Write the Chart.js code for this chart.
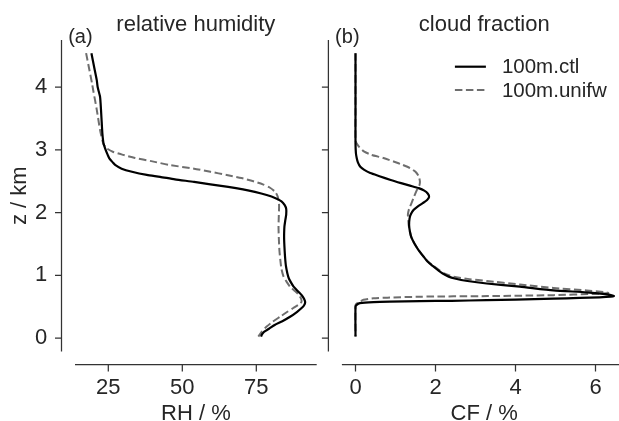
<!DOCTYPE html>
<html>
<head>
<meta charset="utf-8">
<script src="https://cdn.jsdelivr.net/npm/chart.js@4"></script>
<style>
  body { margin: 0; background: #fff; overflow: hidden; }
  #wrap { position: relative; width: 619px; height: 421px; overflow: hidden; }
  canvas { position: absolute; top: 0; }
</style>
</head>
<body>
<div id="wrap">
  <canvas id="rhChart" width="330" height="421" style="left:0"></canvas>
  <canvas id="cfChart" width="310" height="421" style="left:320px"></canvas>
</div>
<script>
// tick labels
var zTicks = [0, 1, 2, 3, 4];
var rhTicks = [25, 50, 75];
var cfTicks = [0, 2, 4, 6];
var seriesLabels = ['100m.ctl', '100m.unifw'];

// relative humidity, 100m.ctl
var rhCtlZ = [4.54, 4.30, 4.11, 4.00, 3.85, 3.74, 3.50, 3.26, 3.10, 3.00, 2.92, 2.86, 2.80, 2.76, 2.70, 2.65, 2.60, 2.57, 2.53, 2.49, 2.45, 2.41, 2.37, 2.33, 2.28, 2.23, 2.18, 2.12, 2.06, 1.97, 1.88, 1.78, 1.67, 1.57, 1.46, 1.30, 1.15, 1.03, 0.95, 0.88, 0.82, 0.74, 0.68, 0.62, 0.57, 0.52, 0.48, 0.42, 0.34, 0.27, 0.21, 0.15, 0.10, 0.06, 0.025];
var rhCtl = [19.3, 20.3, 21.1, 21.4, 22.2, 22.4, 22.7, 23.0, 23.4, 24.1, 24.8, 25.4, 26.5, 27.3, 29.5, 33.0, 38.0, 42.5, 47.5, 54.0, 59.5, 65.5, 70.5, 74.5, 78.5, 81.5, 83.5, 84.6, 85.1, 85.1, 84.8, 84.5, 84.4, 84.4, 84.5, 84.7, 85.0, 85.5, 86.0, 86.8, 87.6, 89.2, 90.4, 91.2, 91.5, 91.1, 90.3, 88.8, 86.4, 83.8, 81.2, 79.3, 77.6, 76.9, 76.6];

// relative humidity, 100m.unifw
var rhUnifwZ = [4.54, 4.30, 4.06, 3.95, 3.64, 3.32, 3.10, 3.03, 2.97, 2.92, 2.87, 2.82, 2.76, 2.70, 2.65, 2.60, 2.55, 2.50, 2.45, 2.40, 2.33, 2.26, 2.18, 2.10, 1.95, 1.78, 1.60, 1.40, 1.25, 1.10, 0.98, 0.90, 0.82, 0.76, 0.70, 0.64, 0.58, 0.53, 0.48, 0.42, 0.34, 0.26, 0.185, 0.10, 0.025];
var rhUnifw = [17.5, 18.5, 19.5, 19.9, 21.1, 22.2, 23.3, 24.3, 26.5, 30.0, 34.0, 39.5, 45.5, 54.0, 59.5, 65.0, 70.0, 74.0, 77.2, 79.5, 81.4, 82.2, 82.6, 82.7, 82.6, 82.5, 82.6, 82.8, 83.1, 83.5, 84.2, 85.2, 86.4, 87.8, 89.2, 90.0, 90.3, 89.2, 87.5, 85.5, 83.0, 80.5, 78.5, 76.8, 75.7];

// cloud fraction, 100m.ctl
var cfCtlZ = [4.54, 3.60, 3.10, 2.95, 2.87, 2.80, 2.73, 2.68, 2.63, 2.58, 2.52, 2.47, 2.43, 2.39, 2.35, 2.30, 2.25, 2.20, 2.15, 2.10, 2.04, 1.97, 1.90, 1.80, 1.70, 1.60, 1.50, 1.40, 1.30, 1.22, 1.15, 1.08, 1.03, 0.98, 0.95, 0.91, 0.87, 0.82, 0.76, 0.73, 0.70, 0.68, 0.67, 0.66, 0.65, 0.64, 0.63, 0.615, 0.605, 0.595, 0.59, 0.583, 0.575, 0.557, 0.53, 0.50, 0.025];
var cfCtl = [0, 0, 0, 0.01, 0.03, 0.06, 0.12, 0.22, 0.37, 0.60, 0.88, 1.14, 1.36, 1.58, 1.72, 1.81, 1.84, 1.79, 1.68, 1.56, 1.45, 1.38, 1.35, 1.34, 1.36, 1.40, 1.48, 1.58, 1.70, 1.80, 1.93, 2.07, 2.18, 2.33, 2.48, 2.80, 3.28, 4.11, 4.95, 5.78, 6.25, 6.43, 6.46, 6.38, 6.10, 5.60, 4.95, 4.00, 3.28, 2.40, 1.61, 0.86, 0.45, 0.11, 0.03, 0, 0];

// cloud fraction, 100m.unifw
var cfUnifwZ = [4.54, 3.60, 3.15, 3.10, 3.04, 2.97, 2.92, 2.87, 2.81, 2.76, 2.71, 2.65, 2.58, 2.50, 2.44, 2.38, 2.31, 2.25, 2.15, 2.06, 1.97, 1.88, 1.80, 1.70, 1.60, 1.50, 1.40, 1.30, 1.22, 1.15, 1.08, 1.03, 0.98, 0.94, 0.91, 0.855, 0.80, 0.76, 0.735, 0.72, 0.71, 0.705, 0.685, 0.67, 0.66, 0.645, 0.635, 0.61, 0.583, 0.55, 0.52, 0.025];
var cfUnifw = [0, 0, 0, 0.03, 0.10, 0.22, 0.40, 0.70, 0.97, 1.18, 1.36, 1.50, 1.58, 1.61, 1.60, 1.55, 1.50, 1.46, 1.40, 1.34, 1.31, 1.32, 1.33, 1.36, 1.40, 1.48, 1.58, 1.70, 1.81, 1.95, 2.10, 2.22, 2.45, 2.85, 3.28, 4.11, 4.95, 5.78, 6.20, 6.32, 6.15, 5.95, 4.95, 3.30, 1.60, 0.80, 0.45, 0.20, 0.11, 0.03, 0, 0];

var FONT = '"Liberation Sans", Arial, sans-serif';
var TEXT = '#262626';
var SPINE = '#333333';

function pts(zs, vals) {
  return zs.map(function (z, i) { return { x: vals[i], y: z }; });
}

function ctlSet(data) {
  return { label: seriesLabels[0], data: data, showLine: true, pointRadius: 0,
           borderColor: '#000000', borderWidth: 2.2, tension: 0.2 };
}
function unifwSet(data) {
  return { label: seriesLabels[1], data: data, showLine: true, pointRadius: 0,
           borderColor: '#6e6e6e', borderWidth: 2, borderDash: [7.5, 3.5], tension: 0.2 };
}

function fixTicks(list) {
  return function (scale) { scale.ticks = list.map(function (v) { return { value: v }; }); };
}

// offset spines (seaborn despine style), panel letter and optional legend
var spines = {
  id: 'spines',
  afterDraw: function (chart, args, opts) {
    var ctx = chart.ctx, a = chart.chartArea;
    var xs = chart.scales.x, ys = chart.scales.y;
    var sx = a.left - 13.5, sy = a.bottom + 13;
    ctx.save();
    ctx.strokeStyle = SPINE;
    ctx.lineWidth = 1.25;
    ctx.beginPath();
    ctx.moveTo(sx, a.top); ctx.lineTo(sx, a.bottom);
    ys.ticks.forEach(function (t) {
      var p = ys.getPixelForValue(t.value);
      ctx.moveTo(sx - 6.5, p); ctx.lineTo(sx, p);
    });
    ctx.moveTo(a.left, sy); ctx.lineTo(a.right, sy);
    xs.ticks.forEach(function (t) {
      var p = xs.getPixelForValue(t.value);
      ctx.moveTo(p, sy); ctx.lineTo(p, sy + 7);
    });
    ctx.stroke();

    ctx.fillStyle = TEXT;
    ctx.font = '20px ' + FONT;
    ctx.textAlign = 'left';
    ctx.textBaseline = 'alphabetic';
    ctx.fillText(opts.letter, a.left - 6.8, a.top + 2.7);

    if (opts.legend) {
      var x0 = a.left + 113;
      chart.data.datasets.forEach(function (ds, i) {
        var y = a.top + 26.7 + i * 23.3;
        ctx.strokeStyle = ds.borderColor;
        ctx.lineWidth = ds.borderWidth;
        ctx.setLineDash(ds.borderDash || []);
        ctx.beginPath();
        ctx.moveTo(x0, y); ctx.lineTo(x0 + 31, y);
        ctx.stroke();
        ctx.setLineDash([]);
        ctx.fillStyle = TEXT;
        ctx.font = '20.5px ' + FONT;
        ctx.textBaseline = 'middle';
        ctx.fillText(ds.label, x0 + 47, y + 1);
      });
    }
    ctx.restore();
  }
};

Chart.defaults.font.family = FONT;
Chart.defaults.color = TEXT;

function titleOpts(text) {
  return { display: true, text: text, fullSize: false, color: TEXT,
           font: { size: 22, weight: 'normal', lineHeight: 1.2 },
           padding: { top: 11.8, bottom: 1.8 } };
}

var rhChart = new Chart(document.getElementById('rhChart').getContext('2d'), {
  type: 'scatter',
  data: { datasets: [ctlSet(pts(rhCtlZ, rhCtl)), unifwSet(pts(rhUnifwZ, rhUnifw))] },
  plugins: [spines],
  options: {
    responsive: false,
    animation: false,
    devicePixelRatio: 1,
    layout: { padding: { left: 0, right: 13.3, top: 0, bottom: 0 } },
    plugins: {
      legend: { display: false },
      tooltip: { enabled: false },
      title: titleOpts('relative humidity'),
      spines: { letter: '(a)', legend: false }
    },
    scales: {
      x: {
        type: 'linear', min: 13.75, max: 95.4,
        afterBuildTicks: fixTicks(rhTicks),
        afterFit: function (s) { s.height = 69.5; },
        grid: { display: false, drawTicks: false },
        border: { display: false },
        ticks: { color: TEXT, padding: 25.5, font: { size: 22, lineHeight: 1 } },
        title: { display: true, text: 'RH / %', color: TEXT,
                 font: { size: 22, lineHeight: 1 }, padding: { top: 0, bottom: -4 } }
      },
      y: {
        type: 'linear', min: -0.213, max: 4.75,
        afterBuildTicks: fixTicks(zTicks),
        afterFit: function (s) { s.width = 75; },
        grid: { display: false, drawTicks: false },
        border: { display: false },
        ticks: { color: TEXT, padding: 27.7, font: { size: 22, lineHeight: 1 } },
        title: { display: true, text: 'z / km', color: TEXT,
                 font: { size: 22, lineHeight: 1 }, padding: { top: 8.7, bottom: 0 } }
      }
    }
  }
});

var cfChart = new Chart(document.getElementById('cfChart').getContext('2d'), {
  type: 'scatter',
  data: { datasets: [ctlSet(pts(cfCtlZ, cfCtl)), unifwSet(pts(cfUnifwZ, cfUnifw))] },
  plugins: [spines],
  options: {
    responsive: false,
    animation: false,
    devicePixelRatio: 1,
    layout: { padding: { left: 0, right: 3.5, top: 0, bottom: 0 } },
    plugins: {
      legend: { display: false },
      tooltip: { enabled: false },
      title: titleOpts('cloud fraction'),
      spines: { letter: '(b)', legend: true }
    },
    scales: {
      x: {
        type: 'linear', min: -0.34, max: 6.775,
        afterBuildTicks: fixTicks(cfTicks),
        afterFit: function (s) { s.height = 69.5; },
        grid: { display: false, drawTicks: false },
        border: { display: false },
        ticks: { color: TEXT, padding: 25.5, font: { size: 22, lineHeight: 1 } },
        title: { display: true, text: 'CF / %', color: TEXT,
                 font: { size: 22, lineHeight: 1 }, padding: { top: 0, bottom: -4 } }
      },
      y: {
        type: 'linear', min: -0.213, max: 4.75,
        afterBuildTicks: fixTicks(zTicks),
        afterFit: function (s) { s.width = 21.9; },
        grid: { display: false, drawTicks: false },
        border: { display: false },
        ticks: { display: false }
      }
    }
  }
});
</script>
</body>
</html>
